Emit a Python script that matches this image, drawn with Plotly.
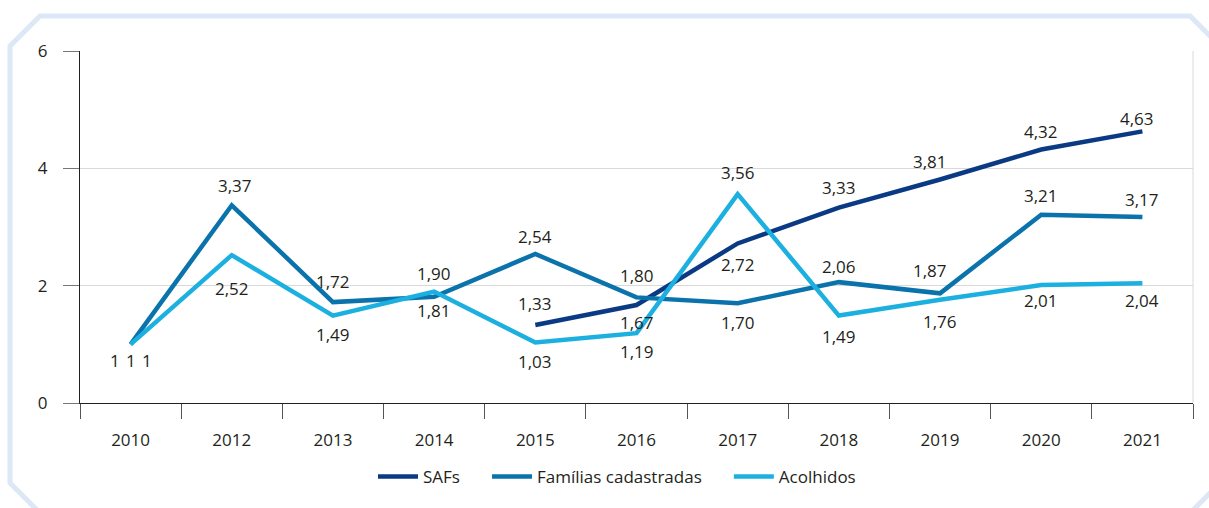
import plotly.graph_objects as go

# Categories and series values
years = ["2010", "2012", "2013", "2014", "2015", "2016", "2017", "2018", "2019", "2020", "2021"]
safs = [1, None, None, None, 1.33, 1.67, 2.72, 3.33, 3.81, 4.32, 4.63]
familias = [1, 3.37, 1.72, 1.81, 2.54, 1.80, 1.70, 2.06, 1.87, 3.21, 3.17]
acolhidos = [1, 2.52, 1.49, 1.90, 1.03, 1.19, 3.56, 1.49, 1.76, 2.01, 2.04]

series_names = ["SAFs", "Famílias cadastradas", "Acolhidos"]
series_colors = ["#0b3a84", "#0a73ab", "#1cb0e0"]

# Label placement (pixel offsets dx, dy relative to each point; negative dy = above)
safs_off = [(0, 16), None, None, None, (0, -21), (0, 17), (0, 21), (0, -20), (-10, -18), (0, -18), (-5, -13)]
familias_off = [(-16, 16), (3, -20), (0, -21), (0, 14), (0, -17), (0, -22), (0, 19), (0, -16), (-10, -23), (0, -19), (0, -18)]
acolhidos_off = [(16, 16), (0, 33), (0, 19), (0, -18), (0, 19), (0, 18), (0, -22), (0, 21), (0, 22), (0, 15), (0, 17)]

FONT = "Open Sans"
TEXT_COLOR = "#231f20"
FS = 17

# Pixel geometry of the page / plot area
W, H = 1209, 508
L, R, T, B = 80, 16, 51, 105
PW, PH = W - L - R, H - T - B


def fmt(v):
    if float(v).is_integer():
        return str(int(v))
    return f"{v:.2f}".replace(".", ",")


def px(x, y):
    """Convert page pixels to paper coordinates."""
    return (x - L) / PW, (H - B - y) / PH


fig = go.Figure()

annotations = []
pad = "\u00a0" * 5
for k, (name, color, vals, offs) in enumerate(zip(series_names, series_colors,
                                                  [safs, familias, acolhidos],
                                                  [safs_off, familias_off, acolhidos_off])):
    fig.add_trace(go.Scatter(
        x=years, y=vals, name=name + (pad if k < len(series_names) - 1 else ""),
        mode="lines", line=dict(color=color, width=4.5),
        connectgaps=False, hoverinfo="skip",
    ))
    for i, (v, off) in enumerate(zip(vals, offs)):
        if v is None:
            continue
        annotations.append(dict(
            x=i, y=v, xref="x", yref="y", text=fmt(v), showarrow=False,
            xshift=off[0], yshift=-off[1], xanchor="center", yanchor="middle",
            font=dict(family=FONT, size=FS, color=TEXT_COLOR),
        ))

# Decorative chamfered frame around the chart
frame_pts = [(40, 16), (1190, 16), (1226, 52), (1226, 477), (1192, 511),
             (40, 513), (10, 483), (10, 46)]
path = "M " + " L ".join(f"{px(x, y)[0]:.5f},{px(x, y)[1]:.5f}" for x, y in frame_pts) + " Z"

shapes = [
    dict(type="path", xref="paper", yref="paper", path=path,
         line=dict(color="#dce8f5", width=5), fillcolor="rgba(0,0,0,0)", layer="below"),
    # right border of the plot area
    dict(type="line", xref="paper", yref="paper", x0=1, x1=1, y0=0, y1=1,
         line=dict(color="#d9d9d9", width=1), layer="below"),
]

fig.update_layout(
    width=W, height=H,
    margin=dict(l=L, r=R, t=T, b=B),
    paper_bgcolor="white", plot_bgcolor="white",
    font=dict(family=FONT, size=FS, color=TEXT_COLOR),
    showlegend=True,
    legend=dict(orientation="h", x=px(617, 0)[0], xanchor="center", y=px(0, 477)[1], yanchor="middle",
                font=dict(family=FONT, size=FS, color=TEXT_COLOR),
                itemwidth=40, traceorder="normal", bgcolor="rgba(0,0,0,0)"),
    annotations=annotations,
    shapes=shapes,
)

fig.update_xaxes(
    type="category", categoryorder="array", categoryarray=years,
    tickson="boundaries", ticks="outside", ticklen=15, tickcolor="#555555", tickwidth=1,
    ticklabelstandoff=21,
    showline=True, linecolor="#231f20", linewidth=1.2,
    showgrid=False, zeroline=False,
    tickfont=dict(family=FONT, size=FS, color=TEXT_COLOR),
    range=[-0.5, len(years) - 0.5],
)
fig.update_yaxes(
    range=[0, 6], tickvals=[0, 2, 4, 6], ticks="outside", ticklen=16,
    tickcolor="#777777", tickwidth=1, ticklabelstandoff=12,
    showline=True, linecolor="#231f20", linewidth=1.2,
    showgrid=True, gridcolor="#d9d9d9", gridwidth=1, zeroline=False,
    tickfont=dict(family=FONT, size=FS, color=TEXT_COLOR),
)

fig.write_html("out.html")
